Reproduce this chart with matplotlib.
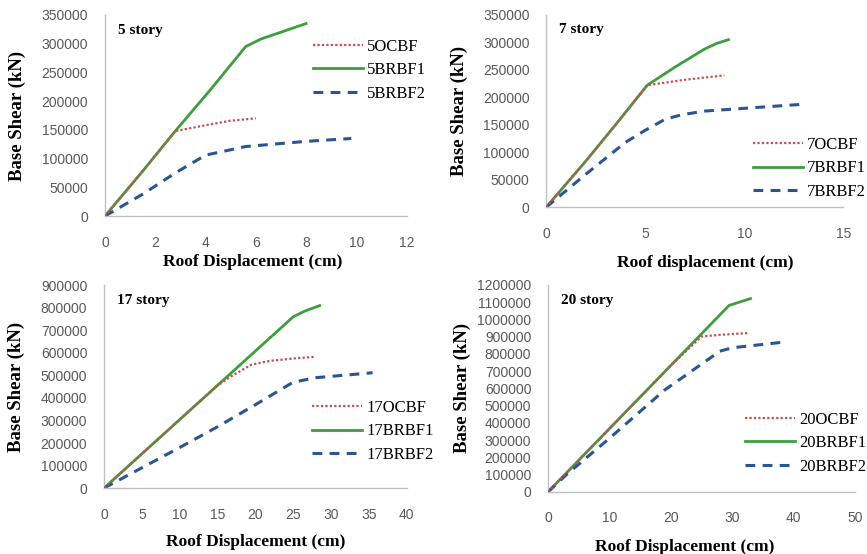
import numpy as np
import matplotlib.pyplot as plt

# 5 story
x5_ocbf = [0, 1.5, 2.8, 4.0, 5.0, 6.0]
y5_ocbf = [0, 78000, 148000, 158000, 166000, 170000]
x5_brbf1 = [0, 1.5, 2.8, 4.2, 5.6, 6.2, 8.0]
y5_brbf1 = [0, 78000, 148000, 220000, 295000, 308000, 335000]
x5_brbf2 = [0, 1.5, 2.8, 4.0, 5.6, 8.0, 9.8]
y5_brbf2 = [0, 38000, 75000, 106000, 121000, 130000, 135000]

# 7 story
x7_ocbf = [0, 2.0, 3.5, 5.1, 7.0, 9.0]
y7_ocbf = [0, 84000, 150000, 222000, 232000, 240000]
x7_brbf1 = [0, 2.0, 3.5, 5.1, 6.5, 8.0, 8.6, 9.2]
y7_brbf1 = [0, 84000, 150000, 222000, 255000, 288000, 298000, 305000]
x7_brbf2 = [0, 2.0, 4.0, 5.0, 6.0, 6.8, 8.0, 10.0, 12.8]
y7_brbf2 = [0, 60000, 118000, 140000, 160000, 168000, 175000, 180000, 187000]

# 17 story
x17_ocbf = [0, 5, 10, 15, 17, 19.5, 22, 25, 28]
y17_ocbf = [0, 152000, 304000, 455000, 500000, 548000, 565000, 575000, 583000]
x17_brbf1 = [0, 5, 10, 15, 20, 25, 26.5, 28.5]
y17_brbf1 = [0, 152000, 304000, 456000, 608000, 760000, 785000, 810000]
x17_brbf2 = [0, 5, 10, 15, 20, 25, 28, 35.5]
y17_brbf2 = [0, 90000, 180000, 272000, 370000, 470000, 490000, 512000]

# 20 story
x20_ocbf = [0, 10, 20, 25, 28, 32.5]
y20_ocbf = [0, 366000, 732000, 900000, 910000, 920000]
x20_brbf1 = [0, 10, 20, 29.5, 33]
y20_brbf1 = [0, 366000, 732000, 1080000, 1120000]
x20_brbf2 = [0, 3, 10, 19, 25, 28, 30, 39]
y20_brbf2 = [0, 100000, 310000, 590000, 740000, 815000, 835000, 870000]

red = '#C0504D'
green = '#3E9E3E'
blue = '#2B5590'
gray = '#595959'

fig = plt.figure(figsize=(8.67, 5.54), dpi=100)

panels = [
    # rect, xmax, xstep, ymax, ystep, title, xlabel, data, legend anchor, ylabel x, xlabel pos
    ([0.121, 0.610, 0.348, 0.363], 12, 2, 350000, 50000, '5 story', 'Roof Displacement (cm)',
     ('5', x5_ocbf, y5_ocbf, x5_brbf1, y5_brbf1, x5_brbf2, y5_brbf2), (0.361, 0.93), -0.262, (0.49, -0.19)),
    ([0.630, 0.626, 0.3426, 0.347], 15, 5, 350000, 50000, '7 story', 'Roof displacement (cm)',
     ('7', x7_ocbf, y7_ocbf, x7_brbf1, y7_brbf1, x7_brbf2, y7_brbf2), (0.8685, 0.753), -0.262, (0.535, -0.25)),
    ([0.120, 0.119, 0.349, 0.366], 40, 5, 900000, 100000, '17 story', 'Roof Displacement (cm)',
     ('17', x17_ocbf, y17_ocbf, x17_brbf1, y17_brbf1, x17_brbf2, y17_brbf2), (0.360, 0.278), -0.26, (0.5, -0.225)),
    ([0.632, 0.112, 0.354, 0.374], 50, 10, 1200000, 100000, '20 story', 'Roof Displacement (cm)',
     ('20', x20_ocbf, y20_ocbf, x20_brbf1, y20_brbf1, x20_brbf2, y20_brbf2), (0.859, 0.257), -0.25, (0.446, -0.225)),
]

for rect, xmax, xstep, ymax, ystep, title, xlabel, data, anchor, ylx, xlpos in panels:
    ax = fig.add_axes(rect)
    tag, xo, yo, xb1, yb1, xb2, yb2 = data
    ax.plot(xo, yo, color=red, lw=1.6, linestyle=(0, (1, 1)), label=tag + 'OCBF', zorder=3)
    ax.plot(xb1, yb1, color=green, lw=2.0, label=tag + 'BRBF1', zorder=2)
    ax.plot(xb2, yb2, color=blue, lw=2.2, dashes=(3.2, 2.4), label=tag + 'BRBF2', zorder=2)

    ax.set_xlim(0, xmax)
    ax.set_ylim(0, ymax)
    ax.set_xticks(np.arange(0, xmax + 0.1, xstep))
    ax.set_yticks(np.arange(0, ymax + 1, ystep))
    ax.set_yticklabels([str(int(v)) for v in np.arange(0, ymax + 1, ystep)])
    for s in ['top', 'right']:
        ax.spines[s].set_visible(False)
    for s in ['left', 'bottom']:
        ax.spines[s].set_color('#BFBFBF')
        ax.spines[s].set_linewidth(1.0)
    ax.tick_params(axis='both', length=0, labelsize=10, labelcolor=gray)
    ax.tick_params(axis='x', pad=14)
    ax.tick_params(axis='y', pad=12)
    for lbl in ax.get_xticklabels() + ax.get_yticklabels():
        lbl.set_fontfamily('Liberation Sans')

    ax.set_xlabel(xlabel, fontsize=12.5, fontweight='bold', family='Liberation Serif')
    ax.xaxis.set_label_coords(*xlpos)
    ax.set_ylabel('Base Shear (kN)', fontsize=13.5, fontweight='bold', family='Liberation Serif')
    ax.yaxis.set_label_coords(ylx, 0.5)

    ax.text(0.043, 0.925, title, transform=ax.transAxes, fontsize=11, fontweight='bold',
            family='Liberation Serif', va='center', ha='left')

    ax.legend(loc='upper left', bbox_to_anchor=anchor, bbox_transform=fig.transFigure,
              frameon=False, borderpad=0, borderaxespad=0, handlelength=3.0,
              handletextpad=0.25, labelspacing=0.45,
              prop={'family': 'Liberation Serif', 'size': 12})

fig.savefig('out.png', dpi=100)
